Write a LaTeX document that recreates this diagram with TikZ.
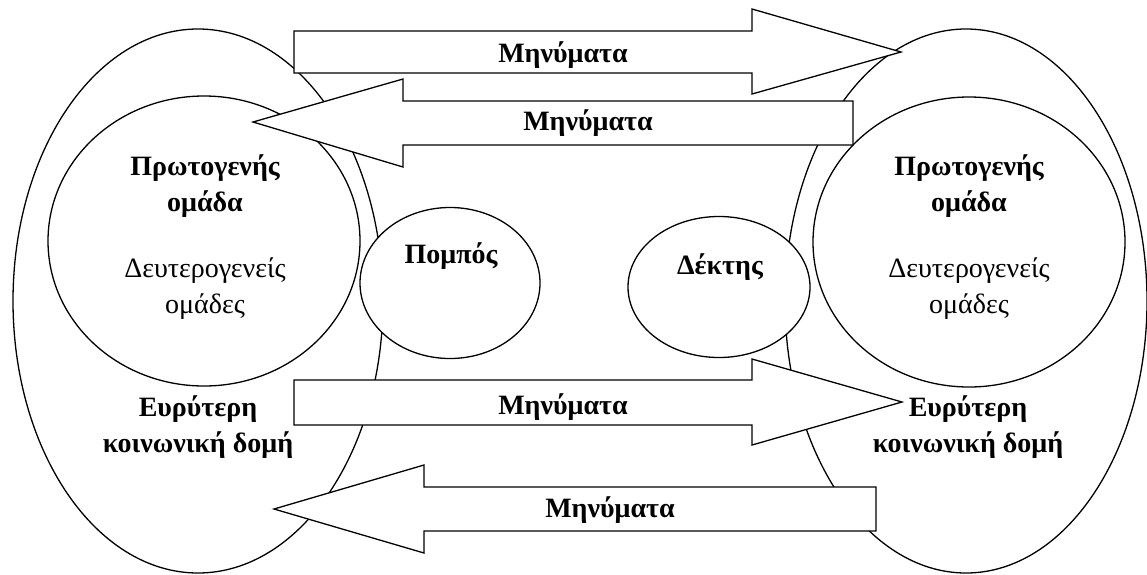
\documentclass[tikz,border=0pt]{standalone}
\usepackage{fontspec}
\setmainfont{Liberation Serif}
\usepackage{tikz}
\usetikzlibrary{positioning,shapes,arrows.meta}
\tikzstyle{grp}=[%
      ellipse, draw=black, line width=1.3pt, fill=white, inner sep=0pt
]
\tikzstyle{msg}=[%
      draw=black, line width=1.3pt, fill=white, line join=miter
]
\tikzstyle{bl}=[%
      font=\fontsize{28}{36}\selectfont\bfseries, align=center, inner sep=0pt
]
\tikzstyle{rg}=[%
      font=\fontsize{28}{36}\selectfont, align=center, inner sep=0pt
]

\begin{document}
\begin{tikzpicture}[x=1pt, y=-1pt]
    \useasboundingbox (0,0) rectangle (1147,574);

    % society, groups, sender and receiver
    \node[grp, minimum width=370pt, minimum height=544pt] (wideL) at (198,301) {};
    \node[grp, minimum width=362pt, minimum height=544pt] (wideR) at (966,301) {};
    \node[grp, minimum width=312pt, minimum height=290pt] (primL) at (204,241) {};
    \node[grp, minimum width=312pt, minimum height=290pt] (primR) at (969,242) {};
    \node[grp, minimum width=180pt, minimum height=151pt] (send) at (450,283) {};
    \node[grp, minimum width=182pt, minimum height=141pt] (recv) at (719,287) {};

    % messages
    \draw[msg] (294,31) -- (752,31) -- (752,9) -- (901,52) -- (752,94) -- (752,73) -- (294,73) -- cycle;
    \draw[msg] (853,101) -- (403,101) -- (403,79) -- (253,122) -- (403,167) -- (403,145) -- (853,145) -- cycle;
    \draw[msg] (294,380) -- (752,380) -- (752,359) -- (902,402) -- (752,445) -- (752,425) -- (294,425) -- cycle;
    \draw[msg] (876,487) -- (424,487) -- (424,465) -- (274,509) -- (424,553) -- (424,531) -- (876,531) -- cycle;

    \node[bl] (m1) at (563,55) {Μηνύματα};
    \node[bl] (m2) at (588,123) {Μηνύματα};
    \node[bl] (m3) at (563,407) {Μηνύματα};
    \node[bl] (m4) at (610,510) {Μηνύματα};

    \node[bl] (primLt) at (205,186) {Πρωτογενής\\ομάδα};
    \node[rg] (secLt) at (205,289) {Δευτερογενείς\\ομάδες};
    \node[bl] (wideLt) at (198,427) {Ευρύτερη\\κοινωνική δομή};
    \node[bl] (primRt) at (969,186) {Πρωτογενής\\ομάδα};
    \node[rg] (secRt) at (969,289) {Δευτερογενείς\\ομάδες};
    \node[bl] (wideRt) at (968,427) {Ευρύτερη\\κοινωνική δομή};

    \node[bl] (sendt) at (451,256) {Πομπός};
    \node[bl] (recvt) at (720,267) {Δέκτης};

\end{tikzpicture}
\end{document}
